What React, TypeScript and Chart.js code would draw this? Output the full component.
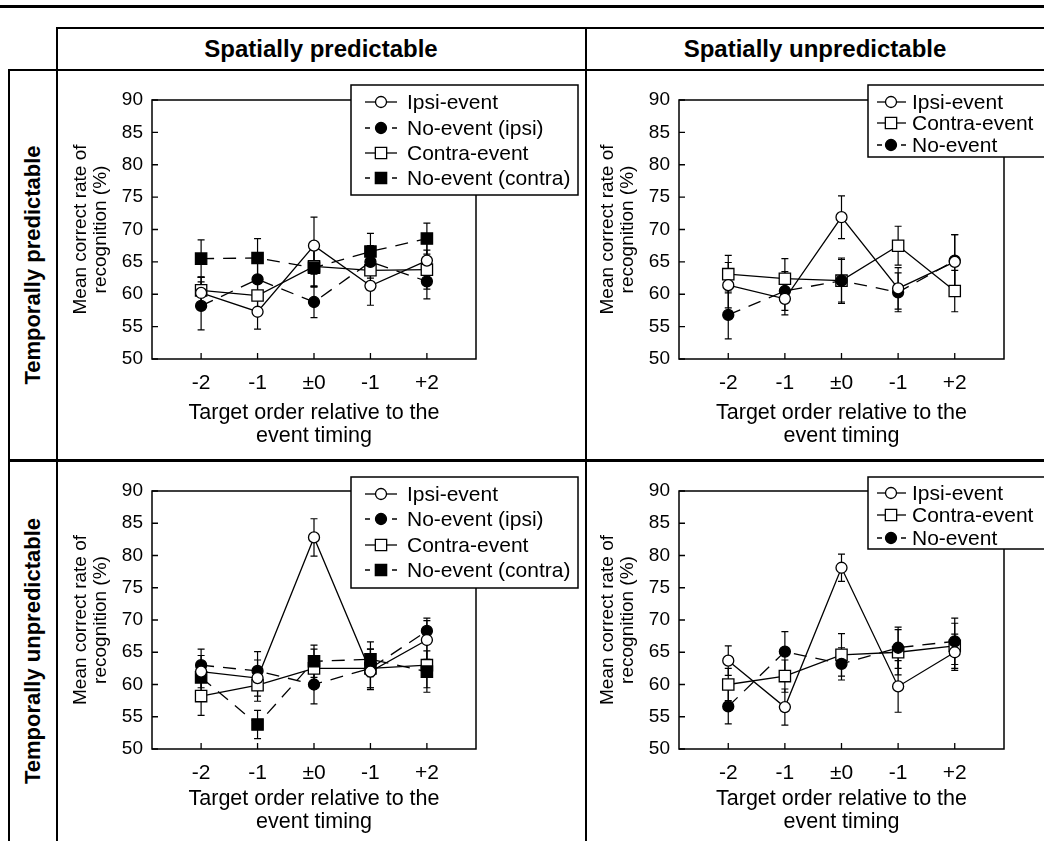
import React, { useEffect, useRef } from "react";
import { Chart, registerables } from "chart.js";

Chart.register(...registerables);

// ---------- text ----------
const colHeaders = ["Spatially predictable", "Spatially unpredictable"];
const rowHeaders = ["Temporally predictable", "Temporally unpredictable"];
const xLabels = ["-2", "-1", "±0", "-1", "+2"];
const yTickValues = [50, 55, 60, 65, 70, 75, 80, 85, 90];
const yTitle = ["Mean correct rate of", "recognition (%)"];
const xTitle = ["Target order relative to the", "event timing"];

// ---------- data: temporally predictable / spatially predictable ----------
const tpSpIpsi = [60.2, 57.3, 67.5, 61.3, 65.2];
const tpSpIpsiErr = [2.5, 2.7, 4.4, 3.0, 3.0];
const tpSpNoIpsi = [58.2, 62.3, 58.8, 65.0, 62.0];
const tpSpNoIpsiErr = [3.7, 2.5, 2.4, 2.5, 2.7];
const tpSpContra = [60.6, 59.8, 64.3, 63.7, 63.8];
const tpSpContraErr = [2.0, 2.5, 3.0, 3.0, 3.0];
const tpSpNoContra = [65.5, 65.6, 64.1, 66.6, 68.6];
const tpSpNoContraErr = [2.9, 3.0, 3.0, 2.8, 2.4];

// ---------- temporally predictable / spatially unpredictable ----------
const tpSuIpsi = [61.4, 59.3, 71.9, 60.9, 65.0];
const tpSuIpsiErr = [3.5, 2.5, 3.3, 3.2, 4.2];
const tpSuContra = [63.1, 62.4, 62.1, 67.5, 60.5];
const tpSuContraErr = [2.9, 3.1, 3.5, 3.0, 3.2];
const tpSuNo = [56.8, 60.5, 62.1, 60.3, 65.2];
const tpSuNoErr = [3.7, 3.0, 3.3, 3.0, 4.0];

// ---------- temporally unpredictable / spatially predictable ----------
const tuSpIpsi = [62.0, 61.0, 82.8, 62.0, 66.9];
const tuSpIpsiErr = [2.5, 2.8, 2.9, 2.8, 3.0];
const tuSpNoIpsi = [63.0, 62.1, 60.0, 62.5, 68.3];
const tuSpNoIpsiErr = [2.5, 3.0, 3.0, 3.0, 2.0];
const tuSpContra = [58.2, 59.9, 62.5, 62.5, 63.0];
const tuSpContraErr = [3.0, 2.5, 3.0, 3.0, 3.5];
const tuSpNoContra = [61.1, 53.8, 63.6, 63.9, 62.0];
const tuSpNoContraErr = [2.5, 2.2, 2.5, 2.7, 3.2];

// ---------- temporally unpredictable / spatially unpredictable ----------
const tuSuIpsi = [63.7, 56.5, 78.1, 59.7, 65.0];
const tuSuIpsiErr = [2.3, 2.8, 2.1, 4.0, 2.8];
const tuSuContra = [60.0, 61.3, 64.6, 65.0, 66.0];
const tuSuContraErr = [2.5, 2.5, 3.3, 3.5, 3.5];
const tuSuNo = [56.6, 65.1, 63.2, 65.7, 66.7];
const tuSuNoErr = [2.7, 3.1, 2.5, 3.2, 3.6];

// ---------- styles ----------
const FONT = "'Liberation Sans', Arial, Helvetica, sans-serif";
const INK = "#000";

type Kind = "openCircle" | "filledCircle" | "openSquare" | "filledSquare";
interface Series {
  label: string;
  values: number[];
  errors: number[];
  kind: Kind;
  dashed: boolean;
  order: number;
}

interface PanelGeom {
  canvas: { left: number; top: number; w: number; h: number };
  plot: { l: number; t: number; r: number; b: number };
  tickCenter: number;
  title2Center: number;
  legend: {
    x1: number; y1: number; x2: number; y2: number;
    rows: number[]; lineX1: number; lineX2: number; markerX: number; textX: number;
  };
}

const LEG_L = { lineX1: 365, lineX2: 397, markerX: 381, textX: 407 };
const LEG_R = { lineX1: 877, lineX2: 906, markerX: 891, textX: 912 };

const panels: { geom: PanelGeom; series: Series[] }[] = [
  {
    geom: {
      canvas: { left: 60, top: 72, w: 524, h: 386 },
      plot: { l: 152, t: 100, r: 476, b: 359 },
      tickCenter: 383,
      title2Center: 436,
      legend: { x1: 351, y1: 85, x2: 578, y2: 195, rows: [102, 128, 153, 178], ...LEG_L },
    },
    series: [
      { label: "Ipsi-event", values: tpSpIpsi, errors: tpSpIpsiErr, kind: "openCircle", dashed: false, order: 0 },
      { label: "No-event (ipsi)", values: tpSpNoIpsi, errors: tpSpNoIpsiErr, kind: "filledCircle", dashed: true, order: 1 },
      { label: "Contra-event", values: tpSpContra, errors: tpSpContraErr, kind: "openSquare", dashed: false, order: 3 },
      { label: "No-event (contra)", values: tpSpNoContra, errors: tpSpNoContraErr, kind: "filledSquare", dashed: true, order: 2 },
    ],
  },
  {
    geom: {
      canvas: { left: 589, top: 72, w: 455, h: 386 },
      plot: { l: 679, t: 100, r: 1004, b: 359 },
      tickCenter: 383,
      title2Center: 436,
      legend: { x1: 868, y1: 85, x2: 1046, y2: 157, rows: [102, 123, 145], ...LEG_R },
    },
    series: [
      { label: "Ipsi-event", values: tpSuIpsi, errors: tpSuIpsiErr, kind: "openCircle", dashed: false, order: 0 },
      { label: "Contra-event", values: tpSuContra, errors: tpSuContraErr, kind: "openSquare", dashed: false, order: 3 },
      { label: "No-event", values: tpSuNo, errors: tpSuNoErr, kind: "filledCircle", dashed: true, order: 1 },
    ],
  },
  {
    geom: {
      canvas: { left: 60, top: 463, w: 524, h: 378 },
      plot: { l: 152, t: 491, r: 476, b: 749 },
      tickCenter: 773,
      title2Center: 822,
      legend: { x1: 351, y1: 477, x2: 578, y2: 588, rows: [494, 519, 545, 570], ...LEG_L },
    },
    series: [
      { label: "Ipsi-event", values: tuSpIpsi, errors: tuSpIpsiErr, kind: "openCircle", dashed: false, order: 0 },
      { label: "No-event (ipsi)", values: tuSpNoIpsi, errors: tuSpNoIpsiErr, kind: "filledCircle", dashed: true, order: 1 },
      { label: "Contra-event", values: tuSpContra, errors: tuSpContraErr, kind: "openSquare", dashed: false, order: 3 },
      { label: "No-event (contra)", values: tuSpNoContra, errors: tuSpNoContraErr, kind: "filledSquare", dashed: true, order: 2 },
    ],
  },
  {
    geom: {
      canvas: { left: 589, top: 463, w: 455, h: 378 },
      plot: { l: 679, t: 491, r: 1004, b: 749 },
      tickCenter: 773,
      title2Center: 822,
      legend: { x1: 868, y1: 477, x2: 1046, y2: 549, rows: [493, 515, 538], ...LEG_R },
    },
    series: [
      { label: "Ipsi-event", values: tuSuIpsi, errors: tuSuIpsiErr, kind: "openCircle", dashed: false, order: 0 },
      { label: "Contra-event", values: tuSuContra, errors: tuSuContraErr, kind: "openSquare", dashed: false, order: 3 },
      { label: "No-event", values: tuSuNo, errors: tuSuNoErr, kind: "filledCircle", dashed: true, order: 1 },
    ],
  },
];

const LINE_W = 1.3;
const DASH = [13, 9];
const CIRCLE_R = 5.5;
const SQUARE_R = 8;
const Y_TICK_SIZE = 19;
const X_TICK_SIZE = 21;
const Y_TITLE_SIZE = 19;
const X_TITLE_SIZE = 21.5;
const TITLE_LH = 1.05;
const LEGEND_SIZE = 21;

function drawMarker(ctx: CanvasRenderingContext2D, kind: Kind, x: number, y: number) {
  ctx.save();
  ctx.setLineDash([]);
  ctx.lineWidth = LINE_W;
  ctx.strokeStyle = INK;
  ctx.fillStyle = kind.startsWith("open") ? "#fff" : INK;
  ctx.beginPath();
  if (kind.endsWith("Circle")) {
    ctx.arc(x, y, CIRCLE_R, 0, Math.PI * 2);
  } else {
    const s = Math.SQRT1_2 * SQUARE_R;
    ctx.rect(x - s, y - s, 2 * s, 2 * s);
  }
  ctx.fill();
  ctx.stroke();
  ctx.restore();
}

const frameTicksPlugin = {
  id: "frameTicks",
  beforeDatasetsDraw(chart: any) {
    const { ctx, chartArea: a, scales } = chart;
    ctx.save();
    ctx.strokeStyle = INK;
    ctx.lineWidth = 1.5;
    ctx.setLineDash([]);
    ctx.strokeRect(a.left, a.top, a.right - a.left, a.bottom - a.top);
    ctx.lineWidth = 1.3;
    ctx.beginPath();
    scales.x.ticks.forEach((t: any) => {
      const px = scales.x.getPixelForValue(t.value);
      ctx.moveTo(px, a.bottom);
      ctx.lineTo(px, a.bottom - 6);
    });
    scales.y.ticks.forEach((t: any) => {
      const py = scales.y.getPixelForValue(t.value);
      ctx.moveTo(a.left, py);
      ctx.lineTo(a.left + 6, py);
    });
    ctx.stroke();
    ctx.restore();
  },
};

const errorBarPlugin = {
  id: "errorBars",
  beforeDatasetsDraw(chart: any) {
    const { ctx, scales } = chart;
    ctx.save();
    ctx.strokeStyle = INK;
    ctx.lineWidth = 1.2;
    ctx.setLineDash([]);
    chart.data.datasets.forEach((ds: any) => {
      ds.data.forEach((p: any, i: number) => {
        const e = ds.errors[i];
        const px = scales.x.getPixelForValue(p.x);
        const yt = scales.y.getPixelForValue(p.y + e);
        const yb = scales.y.getPixelForValue(p.y - e);
        ctx.beginPath();
        ctx.moveTo(px, yt);
        ctx.lineTo(px, yb);
        ctx.moveTo(px - 3.5, yt);
        ctx.lineTo(px + 3.5, yt);
        ctx.moveTo(px - 3.5, yb);
        ctx.lineTo(px + 3.5, yb);
        ctx.stroke();
      });
    });
    ctx.restore();
  },
};

const boxLegendPlugin = {
  id: "boxLegend",
  afterDraw(chart: any, _args: any, opts: any) {
    const { ctx } = chart;
    const L = opts.legend;
    const ox = opts.originX;
    const oy = opts.originY;
    ctx.save();
    ctx.fillStyle = "#fff";
    ctx.fillRect(L.x1 - ox, L.y1 - oy, L.x2 - L.x1, L.y2 - L.y1);
    ctx.strokeStyle = INK;
    ctx.lineWidth = 1.5;
    ctx.strokeRect(L.x1 - ox, L.y1 - oy, L.x2 - L.x1, L.y2 - L.y1);
    const items: Series[] = opts.series;
    items.forEach((s, i) => {
      const y = L.rows[i] - oy;
      const x1 = L.lineX1 - ox;
      const x2 = L.lineX2 - ox;
      ctx.save();
      ctx.strokeStyle = INK;
      ctx.lineWidth = LINE_W;
      if (s.dashed) {
        ctx.setLineDash([5, x2 - x1 - 10]);
      } else {
        ctx.setLineDash([]);
      }
      ctx.beginPath();
      ctx.moveTo(x1, y);
      ctx.lineTo(x2, y);
      ctx.stroke();
      ctx.restore();
      drawMarker(ctx, s.kind, L.markerX - ox, y);
      ctx.fillStyle = INK;
      ctx.font = `${LEGEND_SIZE}px ${FONT}`;
      ctx.textAlign = "left";
      ctx.textBaseline = "middle";
      ctx.fillText(s.label, L.textX - ox, y + 1);
    });
    ctx.restore();
  },
};

function Panel({ geom, series }: { geom: PanelGeom; series: Series[] }) {
  const ref = useRef<HTMLCanvasElement>(null);
  useEffect(() => {
    if (!ref.current) return;
    const c = geom.canvas;
    const chartLeft = geom.plot.l - c.left;
    const chartTop = geom.plot.t - c.top;
    const chartRight = geom.plot.r - c.left;
    const chartBottom = geom.plot.b - c.top;
    const xTitleLH = X_TITLE_SIZE * TITLE_LH;
    const yTitleLH = Y_TITLE_SIZE * TITLE_LH;
    const scaleBottom = geom.title2Center - c.top + xTitleLH / 2;
    const padBottom = c.h - scaleBottom;
    const xAxisH = scaleBottom - chartBottom;
    const xTickPad = geom.tickCenter - geom.plot.b - (X_TICK_SIZE * 1.2) / 2;
    const yTitlePadTop = geom.plot.l - 71 - c.left - yTitleLH / 2;

    const datasets = series.map((s) => {
      const circle = s.kind.endsWith("Circle");
      const open = s.kind.startsWith("open");
      return {
        label: s.label,
        data: s.values.map((v, i) => ({ x: i, y: v })),
        errors: s.errors,
        order: s.order,
        borderColor: INK,
        borderWidth: LINE_W,
        borderDash: s.dashed ? DASH : [],
        pointStyle: circle ? "circle" : "rect",
        pointRadius: circle ? CIRCLE_R : SQUARE_R,
        pointBackgroundColor: open ? "#fff" : INK,
        pointBorderColor: INK,
        pointBorderWidth: LINE_W,
        fill: false,
        tension: 0,
      };
    });

    const chart = new Chart(ref.current, {
      type: "line",
      data: { datasets } as any,
      plugins: [frameTicksPlugin, errorBarPlugin, boxLegendPlugin],
      options: {
        responsive: false,
        maintainAspectRatio: false,
        animation: false,
        events: [],
        layout: {
          padding: { left: 0, top: chartTop, right: c.w - chartRight, bottom: padBottom },
        },
        plugins: {
          legend: { display: false },
          tooltip: { enabled: false },
          boxLegend: { legend: geom.legend, originX: c.left, originY: c.top, series },
        } as any,
        scales: {
          x: {
            type: "linear",
            min: -0.87,
            max: 4.87,
            afterBuildTicks: (s: any) => {
              s.ticks = xLabels.map((_, i) => ({ value: i }));
            },
            afterFit: (s: any) => {
              s.height = xAxisH;
            },
            grid: { display: false, drawTicks: false },
            border: { display: false },
            ticks: {
              autoSkip: false,
              maxRotation: 0,
              padding: xTickPad,
              color: INK,
              font: { family: FONT, size: X_TICK_SIZE },
              callback: (_v: any, i: number) => xLabels[i],
            },
            title: {
              display: true,
              text: xTitle,
              color: INK,
              font: { family: FONT, size: X_TITLE_SIZE, lineHeight: TITLE_LH },
              padding: { top: 0, bottom: 0 },
            },
          },
          y: {
            min: 50,
            max: 90,
            afterBuildTicks: (s: any) => {
              s.ticks = yTickValues.map((v) => ({ value: v }));
            },
            afterFit: (s: any) => {
              s.width = chartLeft;
            },
            grid: { display: false, drawTicks: false },
            border: { display: false },
            ticks: {
              autoSkip: false,
              padding: 9,
              color: INK,
              font: { family: FONT, size: Y_TICK_SIZE },
            },
            title: {
              display: true,
              text: yTitle,
              color: INK,
              font: { family: FONT, size: Y_TITLE_SIZE, lineHeight: TITLE_LH },
              padding: { top: yTitlePadTop, bottom: 0 },
            },
          },
        } as any,
      },
    });
    return () => chart.destroy();
  }, [geom, series]);

  const c = geom.canvas;
  return (
    <canvas
      ref={ref}
      width={c.w}
      height={c.h}
      style={{ position: "absolute", left: c.left, top: c.top, width: c.w, height: c.h }}
    />
  );
}

function Rule({ x, y, w, h }: { x: number; y: number; w: number; h: number }) {
  return <div style={{ position: "absolute", left: x, top: y, width: w, height: h, background: INK }} />;
}

export default function App() {
  return (
    <div
      style={{
        position: "fixed",
        left: 0,
        top: 0,
        width: 1044,
        height: 841,
        overflow: "hidden",
        background: "#fff",
        fontFamily: FONT,
        color: INK,
      }}
    >
      {panels.map((p, i) => (
        <Panel key={i} geom={p.geom} series={p.series} />
      ))}
      {/* frame rules */}
      <Rule x={0} y={5} w={1044} h={3} />
      <Rule x={56} y={27} w={988} h={2} />
      <Rule x={8} y={69} w={1036} h={2} />
      <Rule x={56} y={27} w={2} h={814} />
      <Rule x={8} y={69} w={2} h={772} />
      <Rule x={585} y={27} w={2} h={814} />
      <Rule x={8} y={459} w={1036} h={3} />
      {/* column headers */}
      {[321, 815].map((cx, i) => (
        <div
          key={"c" + i}
          style={{
            position: "absolute",
            left: cx - 200,
            top: 35,
            width: 400,
            textAlign: "center",
            fontWeight: "bold",
            fontSize: 24,
            lineHeight: "28px",
            whiteSpace: "nowrap",
          }}
        >
          {colHeaders[i]}
        </div>
      ))}
      {/* row headers */}
      {[265, 651].map((cy, i) => (
        <div
          key={"r" + i}
          style={{
            position: "absolute",
            left: 33 - 200,
            top: cy - 14,
            width: 400,
            height: 28,
            textAlign: "center",
            fontWeight: "bold",
            fontSize: 22,
            lineHeight: "28px",
            whiteSpace: "nowrap",
            transform: "rotate(-90deg)",
            transformOrigin: "50% 50%",
          }}
        >
          {rowHeaders[i]}
        </div>
      ))}
    </div>
  );
}
